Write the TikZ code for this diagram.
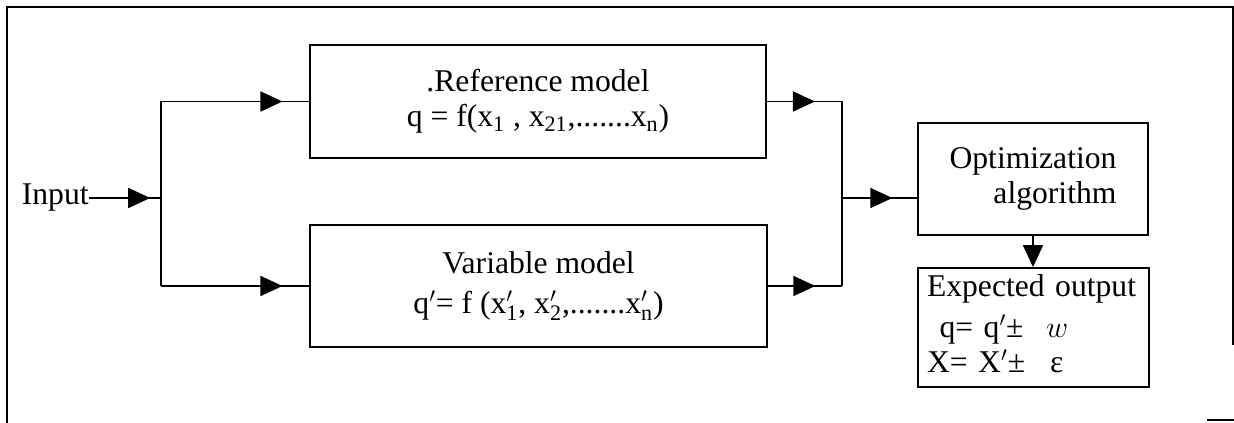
\documentclass[tikz,border=0pt]{standalone}
\usepackage{fontspec}
\setmainfont{Liberation Serif}
\usetikzlibrary{arrows.meta,decorations.markings}

\newcommand{\xsp}[2]{$\mathrm{#1}'_{\mathrm{#2}}$}

\tikzset{
  block/.style={draw=black,line width=1pt,align=center,inner sep=4pt,
    font={\fontsize{18}{20}\selectfont}},
  flow/.style={line width=1pt},
  frame/.style={line width=1pt},
  tip/.style={-{Triangle[length=0.44cm,width=0.4cm]}},
  midarrow/.style={postaction={decorate},decoration={markings,
    mark=at position #1 with {\arrow{Triangle[length=0.44cm,width=0.4cm]}}}}
}

\begin{document}
\begin{tikzpicture}
\useasboundingbox (0,0) rectangle (24.68,8.46);

% outer frame
\draw[frame] (0.14,0) -- (0.14,8.32) -- (24.66,8.32) -- (24.66,1.56);
\draw[frame] (24.14,0.06) -- (24.68,0.06);

% the two models
\node[block,minimum width=9.12cm,minimum height=2.26cm] (refmodel) at (10.76,6.43)
  {.Reference model\\
   q = f(x\textsubscript{1} , x\textsubscript{21},.......x\textsubscript{n})};
\node[block,minimum width=9.14cm,minimum height=2.44cm] (varmodel) at (10.77,2.74)
  {Variable model\\[3pt]
   \xsp{q}{}= f (\xsp{x}{1}, \xsp{x}{2},.......\xsp{x}{n})};

% optimization and result
\node[block,minimum width=4.6cm,minimum height=2.24cm] (optim) at (20.66,4.88)
  {\begin{tabular}{@{}r@{}}Optimization\\ algorithm\end{tabular}};
\node[block,minimum width=4.62cm,minimum height=2.34cm,align=left,
  inner xsep=0.18cm,text width=4.26cm,
  font={\fontsize{18}{20}\selectfont}] (expected) at (20.67,1.91)
  {Expected output\\[3pt]
   \hspace{0.25cm}q= \xsp{q}{}±\hspace{0.45cm}$w$\\
   X= \xsp{X}{}±\hspace{0.5cm}ε};

% input and splitting
\node[anchor=east,inner sep=0pt,font={\fontsize{18}{20}\selectfont}] (input) at (1.78,4.5) {Input};
\coordinate (split) at (3.22,4.5);
\coordinate (merge) at (16.84,4.5);

\draw[flow,midarrow=0.85] (input.east) -- (split);
\draw[flow] (split |- refmodel.west) -- (split |- varmodel.west);
\draw[flow,midarrow=0.82] (split |- refmodel.west) -- (refmodel.west);
\draw[flow,midarrow=0.82] (split |- varmodel.west) -- (varmodel.west);

\draw[flow,midarrow=0.64] (refmodel.east) -- (merge |- refmodel.east);
\draw[flow,midarrow=0.64] (varmodel.east) -- (merge |- varmodel.east);
\draw[flow] (merge |- refmodel.east) -- (merge |- varmodel.east);
\draw[flow,midarrow=0.67] (merge) -- (merge -| optim.west);

\draw[flow,tip] (optim.south) -- (optim.south |- expected.north);

\end{tikzpicture}
\end{document}
